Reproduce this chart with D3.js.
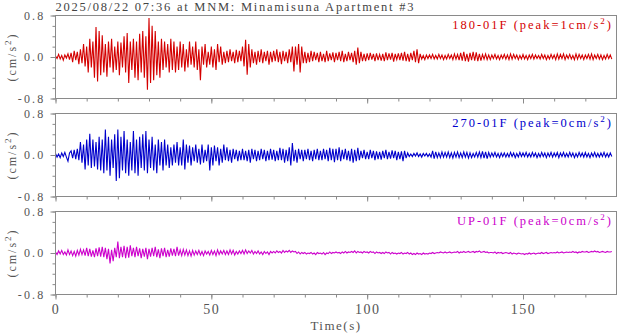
<!DOCTYPE html>
<html>
<head>
<meta charset="utf-8">
<script src="https://cdn.jsdelivr.net/npm/d3@7"></script>
<style>
  html, body { margin: 0; padding: 0; background: #fff; }
  svg { display: block; }
  text { font-family: "Liberation Serif", "DejaVu Serif", serif; }
</style>
</head>
<body>
<div id="chart"></div>
<script>
// ---------------- DATA ----------------
const title = "2025/08/22 07:36 at MNM: Minamisuna Apartment #3";
const sampleInterval = 0.5; // seconds between samples
const xTicksMajor = [0, 50, 100, 150];
const yTickLabels = ["0.8", "0.0", "-0.8"];
const yTickValues = [0.8, 0.0, -0.8];
const channelNames = ["180-01F", "270-01F", "UP-01F"];
const channelPeaks = ["1", "0", "0"];
const channelColors = ["#d40000", "#0000cc", "#cc00cc"];

// acceleration (cm/s^2), one value every 0.5 s
const trace180 = [
  0.02,-0.03,0.05,-0.04,0.03,-0.06,0.04,-0.02,0.06,-0.05,
  0.08,-0.1,0.12,-0.06,0.1,-0.14,0.15,-0.12,0.25,-0.18,
  0.2,-0.3,0.35,-0.2,0.3,-0.4,0.58,-0.47,0.5,-0.35,
  0.42,-0.3,0.25,-0.38,0.3,-0.2,0.35,-0.3,0.2,-0.25,
  0.3,-0.35,0.28,-0.2,0.4,-0.3,0.46,-0.5,0.3,-0.25,
  0.35,-0.4,0.3,-0.45,0.45,-0.3,0.5,-0.4,0.4,-0.63,
  0.75,-0.5,0.6,-0.45,0.5,-0.35,0.3,-0.4,0.35,-0.25,
  0.3,-0.2,0.25,-0.3,0.35,-0.25,0.3,-0.3,0.2,-0.25,
  0.3,-0.2,0.25,-0.28,0.15,-0.2,0.3,-0.15,0.2,-0.2,
  0.3,-0.25,0.15,-0.45,0.2,-0.15,0.25,-0.2,0.1,-0.15,
  0.2,-0.2,0.15,-0.25,0.25,-0.1,0.2,-0.15,0.1,-0.12,
  0.12,-0.1,0.15,-0.08,0.1,-0.12,0.14,-0.1,0.12,-0.08,
  0.2,-0.18,0.33,-0.34,0.25,-0.2,0.15,-0.12,0.1,-0.15,
  0.12,-0.1,0.15,-0.12,0.1,-0.08,0.12,-0.15,0.1,-0.1,
  0.12,-0.08,0.15,-0.1,0.1,-0.14,0.12,-0.08,0.1,-0.12,
  0.15,-0.1,0.2,-0.28,0.2,-0.15,0.25,-0.3,0.2,-0.12,
  0.1,-0.12,0.08,-0.1,0.12,-0.08,0.1,-0.06,0.08,-0.1,
  0.1,-0.08,0.06,-0.1,0.12,-0.08,0.07,-0.06,0.09,-0.1,
  0.08,-0.06,0.1,-0.08,0.12,-0.1,0.06,-0.08,0.1,-0.06,
  0.08,-0.1,0.12,-0.15,0.18,-0.12,0.1,-0.08,0.06,-0.08,
  0.07,-0.06,0.08,-0.05,0.06,-0.08,0.07,-0.06,0.05,-0.07,
  0.06,-0.08,0.09,-0.06,0.07,-0.05,0.08,-0.09,0.06,-0.05,
  0.07,-0.06,0.08,-0.07,0.1,-0.08,0.06,-0.09,0.08,-0.06,
  0.12,-0.1,0.15,-0.12,0.06,-0.04,0.03,-0.05,0.04,-0.03,
  0.04,-0.03,0.05,-0.04,0.03,-0.04,0.05,-0.03,0.04,-0.05,
  0.03,-0.04,0.05,-0.03,0.04,-0.05,0.06,-0.04,0.05,-0.06,
  0.08,-0.07,0.1,-0.08,0.06,-0.09,0.08,-0.06,0.1,-0.07,
  0.09,-0.08,0.06,-0.07,0.05,-0.04,0.06,-0.05,0.04,-0.05,
  0.04,-0.03,0.05,-0.04,0.03,-0.05,0.04,-0.03,0.05,-0.04,
  0.04,-0.05,0.06,-0.04,0.05,-0.03,0.04,-0.05,0.03,-0.04,
  0.05,-0.04,0.03,-0.05,0.04,-0.03,0.05,-0.04,0.04,-0.03,
  0.03,-0.04,0.05,-0.03,0.04,-0.05,0.03,-0.04,0.05,-0.03,
  0.04,-0.05,0.06,-0.04,0.05,-0.03,0.06,-0.05,0.04,-0.03,
  0.05,-0.04,0.03,-0.05,0.06,-0.04,0.05,-0.03,0.04,-0.05,
  0.04,-0.03,0.05,-0.04,0.06,-0.05,0.04,-0.03,0.05,-0.04,
  0.04,-0.05,0.03,-0.04,0.05,-0.03,0.04,-0.04
];
const trace270 = [
  0.03,-0.04,0.02,-0.05,0.04,-0.03,0.05,-0.04,-0.12,0.04,
  0.08,-0.06,0.1,-0.08,0.12,-0.1,0.25,-0.15,0.2,-0.28,
  0.3,-0.2,0.41,-0.25,0.3,-0.22,0.25,-0.28,0.35,-0.3,
  0.3,-0.35,0.49,-0.3,0.35,-0.4,0.3,-0.25,0.4,-0.5,
  0.49,-0.45,0.35,-0.3,0.46,-0.35,0.3,-0.4,0.25,-0.3,
  0.46,-0.35,0.3,-0.4,0.35,-0.25,0.4,-0.3,0.46,-0.35,
  0.3,-0.25,0.35,-0.3,0.2,-0.35,0.3,-0.2,0.25,-0.3,
  0.3,-0.2,0.2,-0.25,0.15,-0.2,0.2,-0.15,0.25,-0.2,
  0.15,-0.2,0.3,-0.28,0.2,-0.15,0.18,-0.2,0.15,-0.12,
  0.2,-0.15,0.12,-0.18,0.2,-0.15,0.1,-0.12,0.2,-0.3,
  0.15,-0.2,0.18,-0.12,0.15,-0.2,0.12,-0.15,0.2,-0.1,
  0.15,-0.12,0.1,-0.15,0.12,-0.08,0.1,-0.12,0.08,-0.1,
  0.12,-0.1,0.08,-0.12,0.1,-0.15,0.12,-0.08,0.1,-0.12,
  0.08,-0.1,0.12,-0.08,0.1,-0.12,0.08,-0.1,0.12,-0.09,
  0.1,-0.12,0.08,-0.1,0.14,-0.1,0.12,-0.15,0.1,-0.12,
  0.15,-0.2,0.23,-0.12,0.1,-0.15,0.12,-0.08,0.1,-0.12,
  0.1,-0.08,0.12,-0.1,0.08,-0.12,0.1,-0.08,0.12,-0.1,
  0.08,-0.1,0.12,-0.08,0.1,-0.12,0.14,-0.1,0.12,-0.14,
  0.12,-0.1,0.15,-0.12,0.1,-0.08,0.12,-0.1,0.08,-0.12,
  0.12,-0.15,0.1,-0.12,0.14,-0.1,0.08,-0.06,0.1,-0.08,
  0.06,-0.08,0.1,-0.06,0.08,-0.1,0.07,-0.08,0.06,-0.09,
  0.08,-0.06,0.1,-0.08,0.06,-0.07,0.09,-0.06,0.08,-0.1,
  0.06,-0.08,0.07,-0.12,0.08,-0.06,0.04,-0.03,0.02,-0.03,
  0.03,-0.02,0.04,-0.03,0.02,-0.04,0.03,-0.02,0.03,-0.03,
  0.02,-0.04,0.08,-0.07,0.06,-0.05,0.04,-0.05,0.06,-0.04,
  0.05,-0.04,0.06,-0.05,0.04,-0.06,0.05,-0.04,0.06,-0.05,
  0.04,-0.05,0.06,-0.04,0.05,-0.06,0.04,-0.05,0.03,-0.04,
  0.05,-0.04,0.06,-0.05,0.07,-0.06,0.06,-0.07,0.05,-0.04,
  0.04,-0.03,0.05,-0.04,0.03,-0.05,0.04,-0.03,0.04,-0.04,
  0.03,-0.04,0.05,-0.03,0.04,-0.05,0.03,-0.04,0.05,-0.03,
  0.04,-0.03,0.05,-0.04,0.03,-0.04,0.05,-0.03,0.04,-0.05,
  0.03,-0.04,0.05,-0.03,0.04,-0.05,0.04,-0.03,0.05,-0.04,
  0.04,-0.03,0.05,-0.05,0.04,-0.03,0.05,-0.04,0.03,-0.04,
  0.05,-0.03,0.04,-0.05,0.03,-0.04,0.05,-0.03,0.04,-0.04,
  0.05,-0.04,0.03,-0.05,0.04,-0.03,0.05,-0.04,0.03,-0.04,
  0.04,-0.03,0.05,-0.04,0.03,-0.04,0.04,-0.03
];
const traceUP = [
  0.02,-0.03,0.04,-0.02,0.05,-0.03,0.02,-0.04,0.06,-0.03,
  0.04,-0.05,0.03,-0.06,0.05,-0.04,0.07,-0.03,0.06,-0.05,
  0.1,-0.06,0.08,-0.07,0.05,-0.08,0.09,-0.06,0.11,-0.07,
  0.12,-0.08,0.1,-0.12,0.08,-0.2,0.06,-0.16,0.1,-0.08,
  0.22,-0.1,0.12,-0.08,0.14,-0.1,0.12,-0.09,0.15,-0.06,
  0.1,-0.08,0.12,-0.06,0.09,-0.1,0.08,-0.07,0.1,-0.12,
  0.08,-0.07,0.1,-0.06,0.12,-0.08,0.07,-0.1,0.09,-0.06,
  0.1,-0.08,0.06,-0.07,0.09,-0.05,0.08,-0.06,0.12,-0.05,
  0.06,-0.05,0.07,-0.04,0.06,-0.05,0.04,-0.06,0.05,-0.04,
  0.04,-0.03,0.05,-0.04,0.03,-0.05,0.04,-0.02,0.03,-0.04,
  0.05,-0.03,0.04,-0.05,0.06,-0.03,0.04,-0.02,0.05,-0.03,
  0.04,-0.03,0.06,-0.02,0.05,-0.04,0.03,-0.02,0.04,-0.01,
  0.05,-0.02,0.06,-0.01,0.04,0.0,0.05,-0.02,0.03,-0.01,
  0.04,-0.02,0.02,-0.03,0.03,-0.01,0.02,-0.03,0.03,0.0,
  0.03,0.0,0.04,0.01,0.03,0.0,0.05,0.01,0.04,0.02,
  0.05,0.01,0.04,0.02,0.03,-0.01,0.02,-0.02,0.01,-0.01,
  0.01,-0.02,0.0,-0.01,0.01,-0.02,0.0,-0.03,0.01,-0.01,
  0.0,-0.02,0.01,-0.03,0.0,-0.01,0.02,-0.01,0.01,0.0,
  0.02,0.0,0.01,-0.01,0.02,0.0,0.03,0.0,0.02,0.01,
  0.03,0.01,0.04,0.0,0.03,0.01,0.02,0.0,0.03,0.01,
  0.02,0.0,0.03,0.01,0.02,-0.01,0.02,0.0,0.01,-0.01,
  0.01,-0.01,0.02,0.0,0.01,-0.02,0.01,-0.01,0.0,-0.02,
  0.0,-0.01,0.01,-0.02,0.0,-0.01,0.01,-0.02,0.0,-0.03,
  -0.01,-0.03,0.0,-0.02,-0.01,-0.03,0.0,-0.02,-0.01,-0.02,
  0.0,-0.01,0.01,-0.01,0.0,0.01,0.0,0.02,0.01,0.0,
  0.02,0.0,0.01,0.02,0.0,0.01,0.02,0.01,0.03,0.0,
  0.02,0.01,0.03,0.01,0.02,0.03,0.01,0.02,0.03,0.01,
  0.03,0.02,0.04,0.01,0.02,0.03,0.01,0.02,0.0,0.01,
  0.01,0.0,0.02,-0.01,0.01,0.0,0.01,-0.01,0.0,0.01,
  0.0,-0.01,0.01,-0.02,0.0,-0.01,-0.02,0.0,-0.01,-0.02,
  -0.01,-0.03,-0.01,-0.02,0.0,-0.02,-0.01,0.0,-0.02,-0.01,
  0.0,-0.01,0.01,-0.01,0.0,0.01,-0.01,0.0,0.01,0.0,
  0.01,0.0,0.02,0.0,0.01,0.02,0.0,0.01,0.02,0.01,
  0.02,0.01,0.03,0.01,0.02,0.0,0.02,0.01,0.03,0.02,
  0.02,0.03,0.01,0.02,0.03,0.02,0.04,0.02,0.03,0.01,
  0.02,0.03,0.02,0.01,0.03,0.02,0.02,0.03
];
const traces = [trace180, trace270, traceUP];

// ---------------- LAYOUT ----------------
const W = 618, H = 334;
const left = 55.5, right = 616.5;
const panelTop0 = 15.5, panelStep = 98, panelH = 83;
const axisGray = "#8a8a8a", textGray = "#555";

const svg = d3.select("#chart").append("svg")
  .attr("width", W).attr("height", H);
svg.append("rect").attr("width", W).attr("height", H).attr("fill", "#fff");

const x = d3.scaleLinear().domain([0, 180]).range([left, right]);

svg.append("text")
  .attr("x", left).attr("y", 11)
  .attr("font-size", 12.5).attr("letter-spacing", 1.75)
  .attr("fill", "#444")
  .text(title);

traces.forEach((tr, i) => {
  const top = panelTop0 + i * panelStep;
  const y = d3.scaleLinear().domain([-0.8, 0.8]).range([top + panelH, top]);
  const g = svg.append("g");

  // clip
  const clipId = "clip" + i;
  svg.append("clipPath").attr("id", clipId)
    .append("rect").attr("x", left).attr("y", top).attr("width", right - left).attr("height", panelH);

  // trace
  const line = d3.line()
    .x((d, k) => x(k * sampleInterval))
    .y(d => y(d));
  g.append("path")
    .datum(tr)
    .attr("clip-path", `url(#${clipId})`)
    .attr("fill", "none")
    .attr("stroke", channelColors[i])
    .attr("stroke-width", 1.1)
    .attr("stroke-linejoin", "miter")
    .attr("d", line);

  // frame
  g.append("rect")
    .attr("x", left).attr("y", top)
    .attr("width", right - left).attr("height", panelH)
    .attr("fill", "none").attr("stroke", axisGray).attr("stroke-width", 1);

  // y axis ticks
  const yAxis = d3.axisLeft(y)
    .tickValues(d3.range(-0.8, 0.81, 0.2))
    .tickSize(3).tickFormat("");
  const ya = g.append("g").attr("transform", `translate(${left},0)`).call(yAxis);
  ya.select(".domain").remove();
  ya.selectAll("line").attr("stroke", axisGray);
  // major y ticks longer
  const yMaj = g.append("g").attr("transform", `translate(${left},0)`)
    .call(d3.axisLeft(y).tickValues(yTickValues).tickSize(5)
      .tickFormat((d, k) => yTickLabels[k]).tickPadding(5));
  yMaj.select(".domain").remove();
  yMaj.selectAll("line").attr("stroke", axisGray);
  yMaj.selectAll("text")
    .attr("font-family", "Liberation Serif, serif")
    .attr("font-size", 12).attr("letter-spacing", 2.2)
    .attr("fill", textGray);

  // x axis ticks (bottom)
  const xa = g.append("g").attr("transform", `translate(0,${top + panelH})`)
    .call(d3.axisBottom(x).tickValues(d3.range(0, 180, 10)).tickSize(3).tickFormat(""));
  xa.select(".domain").remove();
  xa.selectAll("line").attr("stroke", axisGray);
  const xm = g.append("g").attr("transform", `translate(0,${top + panelH})`)
    .call(d3.axisBottom(x).tickValues(xTicksMajor).tickSize(5)
      .tickFormat(i === 2 ? d3.format("d") : "").tickPadding(5));
  xm.select(".domain").remove();
  xm.selectAll("line").attr("stroke", axisGray);
  xm.selectAll("text")
    .attr("font-family", "Liberation Serif, serif")
    .attr("font-size", 14).attr("letter-spacing", 1.5)
    .attr("fill", textGray);

  // channel label
  const lbl = g.append("text")
    .attr("x", 613).attr("y", top + 13)
    .attr("text-anchor", "end")
    .attr("font-size", 12.5).attr("letter-spacing", 2)
    .attr("fill", channelColors[i]);
  lbl.append("tspan").text(`${channelNames[i]} (peak=${channelPeaks[i]}cm/s`);
  lbl.append("tspan").attr("dy", -5).attr("font-size", 9).text("2");
  lbl.append("tspan").attr("dy", 5).text(")");

  // y label
  const yl = g.append("text")
    .attr("transform", `translate(16,${top + panelH / 2}) rotate(-90)`)
    .attr("text-anchor", "middle")
    .attr("font-size", 12).attr("letter-spacing", 2)
    .attr("fill", textGray);
  yl.append("tspan").text("(cm/s");
  yl.append("tspan").attr("dy", -5).attr("font-size", 9).text("2");
  yl.append("tspan").attr("dy", 5).text(")");
});

svg.append("text")
  .attr("x", (left + right) / 2).attr("y", 330)
  .attr("text-anchor", "middle")
  .attr("font-size", 13).attr("letter-spacing", 1.5)
  .attr("fill", textGray)
  .text("Time(s)");
</script>
</body>
</html>
